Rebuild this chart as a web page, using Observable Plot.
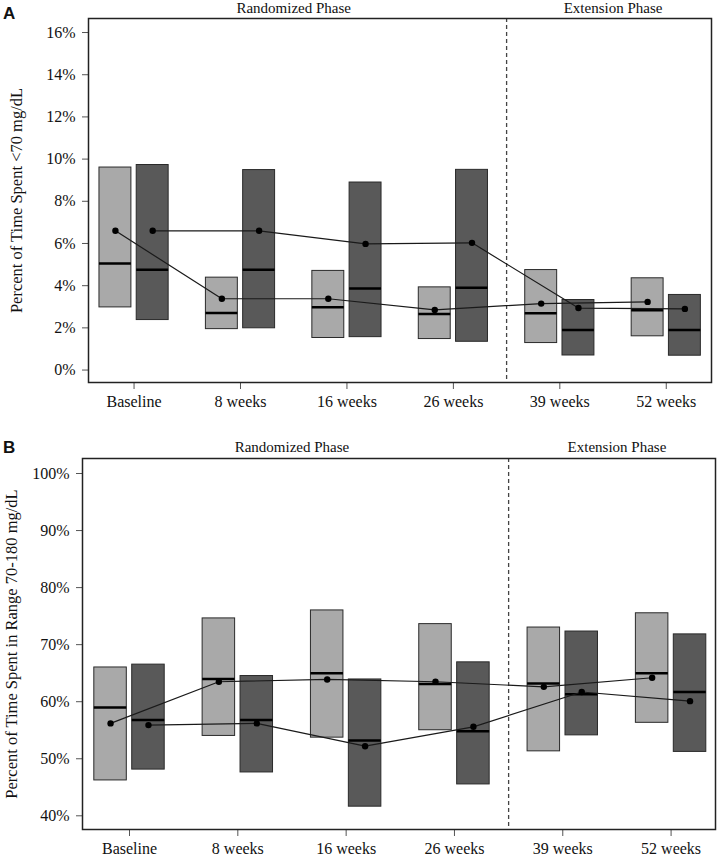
<!DOCTYPE html>
<html><head><meta charset="utf-8">
<script src="https://cdn.jsdelivr.net/npm/d3@7"></script>
<script src="https://cdn.jsdelivr.net/npm/@observablehq/plot@0.6"></script>
<style>
body{margin:0;background:#fff;}
#wrap{position:relative;width:720px;height:856px;font-family:"Liberation Serif",serif;background:#fff;}
.panel{position:absolute;left:0;}
.panel svg, .panel svg g, .panel svg text{font-family:"Liberation Serif",serif !important;font-variant:normal !important;}
.tag{position:absolute;font-family:"Liberation Sans",Arial,sans-serif;font-weight:bold;font-size:17px;color:#111;line-height:1.15;}
</style></head><body>
<div id="wrap">
<div class="panel" id="pA" style="top:0"></div>
<div class="panel" id="pB" style="top:420px"></div>
<div class="tag" style="left:3px;top:4px">A</div>
<div class="tag" style="left:3px;top:438px">B</div>
</div>
<script>
// ---- categories / phases ----
const categories = ["Baseline", "8 weeks", "16 weeks", "26 weeks", "39 weeks", "52 weeks"];
const phases = ["Randomized Phase", "Randomized Phase", "Randomized Phase", "Randomized Phase", "Extension Phase", "Extension Phase"];
const groups = ["light", "dark"];

// ---- Panel A: % time < 70 mg/dL ----
const hypoLightQ1   = [2.97, 1.94, 1.52, 1.47, 1.28, 1.60];
const hypoLightQ3   = [9.60, 4.38, 4.70, 3.92, 4.74, 4.35];
const hypoLightMed  = [5.05, 2.71, 2.98, 2.66, 2.69, 2.84];
const hypoLightMean = [6.60, 3.38, 3.38, 2.85, 3.15, 3.23];
const hypoDarkQ1    = [2.37, 1.98, 1.56, 1.34, 0.69, 0.68];
const hypoDarkQ3    = [9.72, 9.48, 8.89, 9.49, 3.32, 3.56];
const hypoDarkMed   = [4.75, 4.76, 3.87, 3.90, 1.90, 1.90];
const hypoDarkMean  = [6.60, 6.60, 5.98, 6.03, 2.94, 2.90];
const hypoTicks = [0, 2, 4, 6, 8, 10, 12, 14, 16];

// ---- Panel B: % time in range 70-180 mg/dL ----
const tirLightQ1   = [46.2, 54.0, 53.7, 55.0, 51.3, 56.3];
const tirLightQ3   = [66.0, 74.6, 76.0, 73.6, 73.0, 75.5];
const tirLightMed  = [59.0, 64.0, 65.0, 63.1, 63.2, 65.0];
const tirLightMean = [56.2, 63.5, 63.9, 63.5, 62.6, 64.2];
const tirDarkQ1    = [48.1, 47.6, 41.6, 45.5, 54.1, 51.2];
const tirDarkQ3    = [66.5, 64.5, 63.9, 66.9, 72.3, 71.8];
const tirDarkMed   = [56.8, 56.8, 53.2, 54.8, 61.3, 61.7];
const tirDarkMean  = [55.9, 56.2, 52.2, 55.6, 61.7, 60.1];
const tirTicks = [40, 50, 60, 70, 80, 90, 100];

// ---- build tables ----
function buildRows(spec) {
  const rows = [];
  categories.forEach((c, i) => {
    groups.forEach(g => {
      const s = spec[g];
      rows.push({cat: c, i, group: g, q1: s.q1[i], q3: s.q3[i], med: s.med[i], mean: s.mean[i]});
    });
  });
  return rows;
}
const rowsA = buildRows({
  light: {q1: hypoLightQ1, q3: hypoLightQ3, med: hypoLightMed, mean: hypoLightMean},
  dark:  {q1: hypoDarkQ1,  q3: hypoDarkQ3,  med: hypoDarkMed,  mean: hypoDarkMean}
});
const rowsB = buildRows({
  light: {q1: tirLightQ1, q3: tirLightQ3, med: tirLightMed, mean: tirLightMean},
  dark:  {q1: tirDarkQ1,  q3: tirDarkQ3,  med: tirDarkMed,  mean: tirDarkMean}
});

// phase label positions (center of each phase's categories) and boundary
const phaseLabels = Array.from(d3.group(categories.map((c, i) => ({i, p: phases[i]})), d => d.p),
  ([p, arr]) => ({label: p, x: d3.mean(arr, d => d.i)}));
const boundaryIdx = phases.findIndex((p, i) => i > 0 && p !== phases[i - 1]);
const boundary = [boundaryIdx - 0.5];

const off = {light: -0.175, dark: 0.175};
const hw = 0.15;
const cx = d => d.i + off[d.group];
const serif = "Liberation Serif, serif";

function panel({rows, yDomain, yTicks, xDomain, height, marginLeft, marginRight, marginTop, marginBottom, ylabel, labelDx, headDy, labelSize}) {
  return Plot.plot({
    width: 720, height, marginLeft, marginRight, marginTop, marginBottom,
    style: {fontFamily: serif, fontSize: "16px", color: "#111", background: "white", overflow: "visible"},
    x: {domain: xDomain, axis: null},
    y: {domain: yDomain, axis: null},
    color: {domain: groups, range: ["#a9a9a9", "#595959"]},
    marks: [
      Plot.axisX({ticks: d3.range(categories.length), tickFormat: i => categories[i], tickSize: 7, tickPadding: 6, stroke: "#555", fill: "#111", fontSize: 16, fontFamily: serif, label: null}),
      Plot.axisY({ticks: yTicks, tickFormat: d => d + "%", tickSize: 6, tickPadding: 7, stroke: "#555", fill: "#111", fontSize: 16, fontFamily: serif, label: null}),
      Plot.ruleX(boundary, {x: d => d, stroke: "#444", strokeDasharray: "4,3", strokeWidth: 1.3}),
      Plot.rect(rows, {x1: d => cx(d) - hw, x2: d => cx(d) + hw, y1: "q1", y2: "q3", fill: "group", stroke: "#2a2a2a", strokeWidth: 1}),
      Plot.ruleY(rows, {x1: d => cx(d) - hw, x2: d => cx(d) + hw, y: "med", stroke: "#000", strokeWidth: 2.5}),
      Plot.line(rows, {x: cx, y: "mean", z: "group", stroke: "#1a1a1a", strokeWidth: 1.2}),
      Plot.dot(rows, {x: cx, y: "mean", r: 3.2, fill: "#000"}),
      Plot.frame({stroke: "#222", strokeWidth: 1.5}),
      Plot.text(phaseLabels, {x: "x", text: "label", frameAnchor: "top", dy: headDy, fontSize: 15, fontFamily: serif, lineAnchor: "middle", fill: "#111"}),
      Plot.text([ylabel], {text: d => d, frameAnchor: "left", rotate: -90, dx: labelDx, fontSize: labelSize, fontFamily: serif, textAnchor: "middle", lineAnchor: "middle", fill: "#111"})
    ]
  });
}

document.getElementById("pA").appendChild(panel({
  rows: rowsA, yDomain: [-0.59, 16.665], yTicks: hypoTicks, xDomain: [-0.428, 5.425],
  height: 420, marginLeft: 88, marginRight: 9, marginTop: 18, marginBottom: 38,
  ylabel: "Percent of Time Spent <70 mg/dL", labelDx: -72, headDy: -10, labelSize: 16.5
}));
document.getElementById("pB").appendChild(panel({
  rows: rowsB, yDomain: [37.6, 102.63], yTicks: tirTicks, xDomain: [-0.434, 5.41],
  height: 436, marginLeft: 82, marginRight: 5, marginTop: 38, marginBottom: 27,
  ylabel: "Percent of Time Spent in Range 70-180 mg/dL", labelDx: -71, headDy: -11.5, labelSize: 16.5
}));
</script>
</body></html>
